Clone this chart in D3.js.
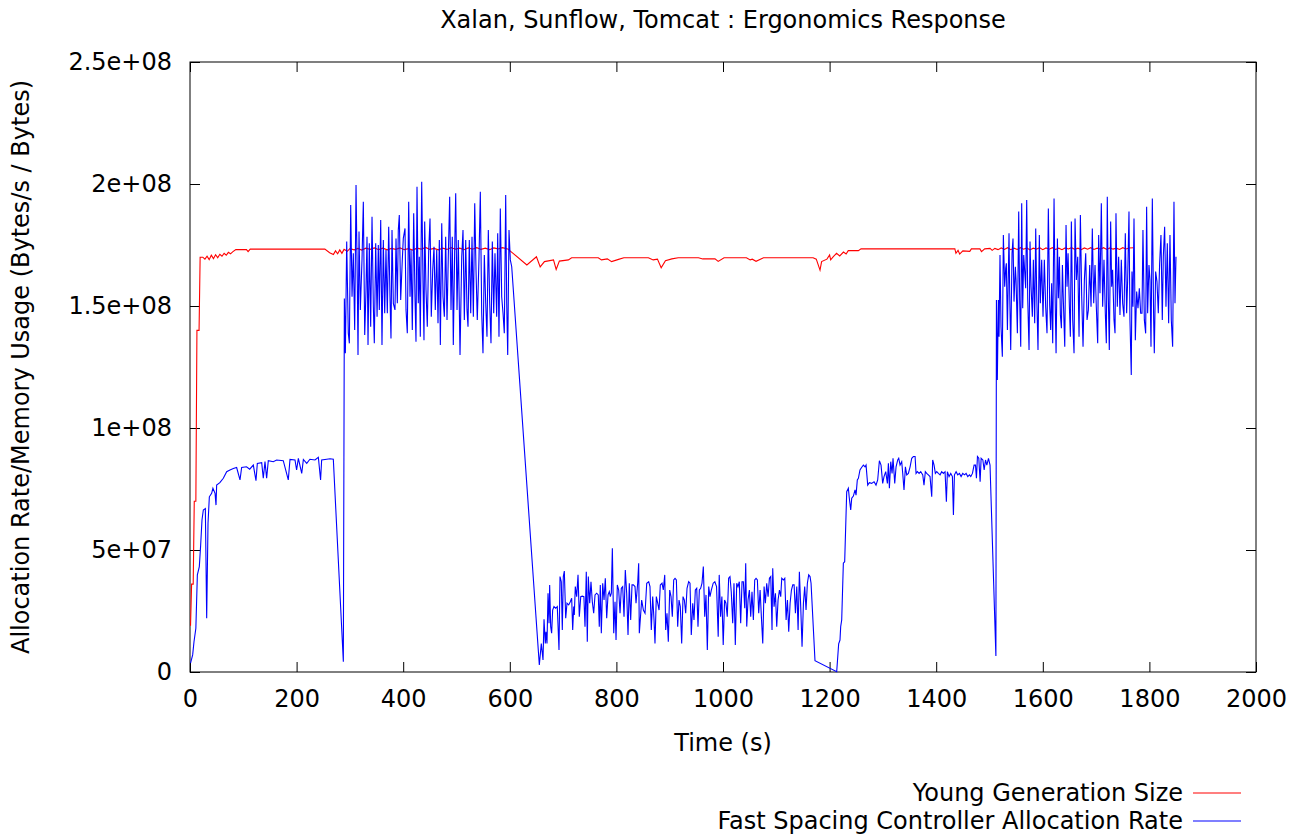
<!DOCTYPE html>
<html>
<head>
<meta charset="utf-8">
<script src="https://cdn.jsdelivr.net/npm/d3@7"></script>
<style>
  body { margin: 0; background: #fff; }
  text { font-family: "DejaVu Sans", sans-serif; fill: #000; }
</style>
</head>
<body>
<div id="chart"></div>
<script>
// values in millions of bytes (or bytes/s), time in seconds
const UNIT = 1e6;

const xTicks = [0, 200, 400, 600, 800, 1000, 1200, 1400, 1600, 1800, 2000];
const yTicks = [0, 5e7, 1e8, 1.5e8, 2e8, 2.5e8];

const seriesNames = ['Young Generation Size', 'Fast Spacing Controller Allocation Rate'];
const seriesColors = ['#ff0000', '#0000ff'];

const youngGen = [
  [1,19],[3,36],[6,36],[8,70],[11,70],[13,140],[17,140],[19,170],[24,170],[28,169.2],[32,170.4],[36,169],
  [40,170.8],[44,169.4],[48,171],[52,169.8],[56,171.2],[60,170.4],[64,171.6],[68,170.8],[72,172],[76,171.4],
  [80,172.2],[86,173.1],[106,173.1],[109,172.3],[113,173.3],[253,173.3],[262,171.8],[269,171.1],[273,172.6],
  [277,171.4],[281,173],[285,171.6],[289,173.2],[295,172.4],[300,173.5],[308,173],[315,173.6],[322,172.9],
  [330,173.7],[338,173.2],[346,173.8],[354,173.1],[362,173.7],[370,173],[378,173.6],[386,173.2],[394,173.8],
  [402,173.1],[410,173.5],[418,172.9],[426,173.7],[434,173.3],[442,174],[450,173.2],[458,173.6],[466,173],
  [474,173.7],[482,173.2],[490,173.9],[498,173.3],[506,173.7],[514,173.1],[522,173.8],[530,173.3],[538,173.9],
  [546,173.2],[554,173.7],[562,173.1],[570,173.8],[578,173.4],[586,173.9],[596,173.4],[605,171.8],[632,166.8],
  [650,170.2],[657,166],[665,168.2],[682,168.9],[687,165],[693,168.4],[710,168.9],[716,169.8],[766,169.8],
  [772,168.9],[783,169.3],[791,168.2],[804,169.1],[814,169.8],[860,169.8],[869,168.9],[877,169.2],[884,165.7],
  [892,168.6],[904,169.3],[916,169.8],[954,169.8],[962,169.3],[985,169.3],[991,168.3],[1002,169.8],[1044,169.8],
  [1051,168.9],[1055,169.2],[1062,168.3],[1076,169.8],[1169,169.8],[1175,169.2],[1182,164.7],[1185,168.2],
  [1195,169.2],[1200,170.9],[1202,168.9],[1207,170.2],[1213,171.6],[1219,170.5],[1226,172.1],[1231,171.3],
  [1235,172.7],[1254,172.7],[1259,173.4],[1435,173.4],[1437,171.6],[1441,172.8],[1444,171.3],[1450,172.6],
  [1463,172.4],[1466,173.4],[1482,173.4],[1485,172.3],[1491,173.4],[1501,173.6],[1505,172.8],[1510,173.6],
  [1516,173.1],[1522,173.8],[1528,173.2],[1534,173.9],[1540,173.1],[1546,173.7],[1552,173.2],[1558,173.9],
  [1564,173.3],[1570,173.8],[1576,173],[1582,173.7],[1588,173.3],[1594,173.9],[1600,173.1],[1606,173.8],
  [1612,173.3],[1618,173.9],[1624,173.2],[1630,173.7],[1636,173.1],[1642,173.8],[1648,173.4],[1654,173.9],
  [1660,173.2],[1666,173.7],[1672,173.1],[1678,173.8],[1684,173.3],[1690,173.9],[1696,173.2],[1702,173.7],
  [1708,173.3],[1714,173.9],[1720,173.2],[1726,173.8],[1732,173.3],[1738,173.7],[1744,173.2],[1750,173.9],
  [1756,173.4],[1762,173.8],[1770,173.9]
];

const allocRate = [
  // ramp + first plateau
  [1,3.6],[5,7],[7.5,12.4],[11,17.9],[13.8,39.8],[17.5,43.2],[20,52],[22.5,62.3],[25,66.4],[28.8,67],[31.3,22],
  [33.8,61],[36.3,71.8],[40.6,73.2],[43,75.3],[47,73.2],[48.8,68.4],[50,76.6],[56,77.6],[62.5,79.4],[68.8,82.1],
  [75,82.8],[81.3,83.4],[87.5,83.8],[93.8,78.7],[96.9,83.8],[106,84.1],[112,83.1],[118.8,84.8],[123.8,78.4],
  [126.3,85.5],[134.5,85.8],[137.5,79.4],[140.7,86.2],[143.8,79.4],[146.9,86.6],[156.3,86.2],[162.5,86.9],
  [175,86.6],[184.4,78.7],[187.6,87.1],[197,86.9],[200,82.8],[203.3,87.6],[209.6,81.4],[212.7,87.1],[219,85.5],
  [225,87.2],[234.5,86.9],[240.8,88],[245,78.7],[247,86.9],[256.5,87.2],[262.7,87.4],[268.9,87.2],[287.7,4.2],
  // first high band
  [289.6,153.1],[291.5,130.6],[294,176.4],[297,138.8],[299,134.7],[301.5,191.4],[304,153.8],[306.4,171.6],
  [309,140.2],[311.5,199.6],[314,157.9],[315.2,129.9],[317.1,180.5],[319.6,148.4],[322.7,168.9],[325.2,192.7],
  [327.8,138.1],[330.2,156.6],[332.1,178.4],[334,134],[336.4,175.7],[339,141.5],[341.5,186.6],[344,149.7],
  [345.8,134.7],[348.4,175.7],[351,145.6],[353.3,175],[355.2,148.4],[357.8,185.2],[360.2,134],[362.7,177],
  [365.3,147],[367.7,172.9],[370.2,147],[372.8,182.5],[375.2,153.8],[377.1,136.7],[379,181.1],[381.5,151.1],
  [384.6,148.4],[386.5,177.7],[389,151.1],[390.8,181.1],[392.7,187.3],[395.3,152.5],[398.3,168.9],[400.2,177.7],
  [403.4,181.8],[405.3,148.4],[407.7,138.8],[410.3,192.7],[412.8,153.8],[414.7,172.9],[417.1,140.2],[419.7,188],
  [422.1,153.8],[424,135.4],[425.9,198.9],[428.3,151.1],[430.2,170.2],[432.1,137.4],[434.7,200.9],[437.2,159.3],
  [439,136],[440.3,184.6],[442.8,156.6],[445.2,141.5],[447.8,172.3],[450.3,185.9],[452.7,145.6],[455.4,164.8],
  [457.8,174.3],[460.2,148.4],[462.9,172.9],[465.3,142.9],[467.8,177],[469.7,134],[472.3,183.9],[474.7,153.8],
  [477.2,145.6],[479.7,178.4],[482.2,144.3],[484.6,170.2],[487.2,194.8],[489.7,148.4],[492.1,178.4],[494,134],
  [496.6,172.9],[498.5,196.2],[501,148.4],[503.4,177],[506.6,129.9],[509.8,170.2],[512.2,181.1],[514.7,144.3],
  [517.3,177],[519.7,148.4],[521.6,141.5],[524,177],[526.7,147],[529.1,178.4],[531.6,145.6],[534.2,192.1],
  [536.6,164.8],[539,144.3],[542.2,169.5],[544.7,196.8],[547.3,147],[549.7,130.6],[552.2,170.9],[554.8,151.1],
  [557.2,137.4],[559.7,181.1],[562.3,151.1],[564.7,134.7],[567.2,176.4],[569.8,147],[572.2,171.6],[575.4,145.6],
  [577.3,179.8],[579.7,137.4],[582.2,190],[584.8,153.8],[587.3,147],[589.7,138.8],[592.3,195.5],[594.2,151.1],
  [596.1,129.9],[598.5,181.1],[601,168.9],[603.6,166.1],[655.4,2.9],
  // low band
  [659.1,11.7],[662.3,4.9],[664.2,21.6],[666.6,11.7],[667.9,16.5],[669.8,11.7],[671.7,32.3],[673.6,20],
  [674.8,35.7],[676.7,18.6],[678.5,15.9],[680.4,25.4],[682.9,26.8],[686.1,26.1],[689.1,26.8],[692.3,9],
  [694.2,39.1],[696.6,37],[698.5,17.2],[700.4,39.1],[702.3,41.4],[704.9,22],[707.3,28.2],[710.5,27.5],
  [713.5,28.8],[716.1,30.2],[718,17.2],[719.9,26.8],[721,23.4],[722.9,35],[725.5,30.9],[728,39.8],[730.4,22.7],
  [733.1,30.9],[736,31.1],[739,30.9],[741.1,18.6],[743.5,41.1],[745.4,12.4],[747.3,39.1],[749.9,28.2],
  [752.3,37],[754.8,28.8],[757.4,24.1],[759.9,31.6],[763,32.3],[766,31.6],[767.9,18.6],[769.8,35.7],[771.7,15.9],
  [774.3,36.4],[776.8,29.5],[779.2,38.4],[781.8,22],[784.3,31.6],[786.7,32.9],[788.6,30.9],[790.5,32.3],
  [792.4,50.7],[795,15.9],[797.4,28.8],[799.3,13.1],[801.7,35.7],[804.3,33.6],[806.8,24.1],[809.2,34.3],
  [811.8,35],[814.3,22.7],[816.7,41.8],[819.3,32.3],[821.8,15.2],[824.2,36.4],[826.8,21.3],[829.3,35.7],
  [831.8,35.7],[834.9,35],[836.8,28.2],[839.9,36.4],[841.8,44.6],[843,15.9],[847.4,29.5],[850.6,25.4],
  [853.7,24.1],[856.9,36.4],[860.6,37],[863,35],[865.5,17.2],[868.1,30.9],[870.6,21.3],[872.4,11.7],[874.9,30.9],
  [877.5,28.2],[880,25.4],[882.4,35.7],[885.6,36.4],[888,33.6],[890.7,39.8],[892.5,17.2],[894.9,24.1],
  [897.4,12.4],[900,33.6],[902.5,30.9],[904.9,22.7],[907.5,37.7],[910,38.4],[912.5,37.7],[915,18.6],[917.5,29.5],
  [919.9,26.8],[922.5,11.7],[925,30.9],[927.5,29.5],[930,24.1],[932.5,34.3],[935.6,37],[938.1,36.4],[940.5,15.2],
  [943.2,28.2],[945.6,21.3],[948.1,33.6],[950.7,34.3],[953.1,18.6],[955.6,33.6],[958.1,34.3],[960.6,36.4],
  [963.1,43.2],[965.7,22.7],[968.1,31.6],[970.6,9],[973.2,35],[975.6,30.9],[978.1,33.6],[981.6,36.4],[984.7,37],
  [987.9,35],[991,14.5],[992.9,39.8],[995.5,22.7],[997.9,30.9],[1000.4,11.1],[1003,29.5],[1005.5,28.2],
  [1008,22.7],[1010.6,38.4],[1013.1,39.1],[1015.5,32.9],[1018.2,20],[1020.6,36.4],[1023.1,11.1],[1025.7,36.4],
  [1028.1,35],[1030.6,37],[1033.2,20],[1035.7,37],[1038.2,37],[1040.8,26.1],[1042.6,44.6],[1044.5,18.6],
  [1047,29.5],[1049.5,33.6],[1052,22.7],[1054.4,32.9],[1057,21.3],[1059.5,37.7],[1062,38.4],[1064.5,37.7],
  [1067,24.1],[1069.6,33.6],[1072,22.7],[1074.6,11.7],[1077.1,35],[1079.5,28.2],[1082,36.4],[1084.6,30.9],
  [1087.1,38.4],[1089.6,39.1],[1092,17.2],[1093.3,42.5],[1095.8,26.8],[1098.4,32.3],[1100.8,18.6],[1103.3,29.5],
  [1105.9,33.6],[1108.3,30.9],[1110.2,38.4],[1113.4,37.7],[1115.9,38.4],[1118.4,21.3],[1120.9,29.5],
  [1123.3,16.5],[1125.9,28.2],[1128.4,33.6],[1130.9,35.7],[1133.4,35.7],[1135.9,24.1],[1138.4,35],[1140.9,17.2],
  [1143.3,41.1],[1145.8,26.8],[1148.3,10.4],[1150.9,28.2],[1153.3,35],[1155.8,25.4],[1158.3,36.4],[1160.8,39.8],
  [1163.3,39.1],[1165.2,36.4],[1172.6,4.6],[1213.3,0.1],
  // second plateau
  [1217,11.5],[1219.5,13.1],[1220.8,18.6],[1222.7,21.3],[1225.8,44.6],[1228.3,45.2],[1232.1,73.9],[1235.2,75.3],
  [1237,71.2],[1239.6,66.4],[1241.5,71.2],[1244.6,72.1],[1247.7,74.6],[1249.6,72.5],[1252,78.7],[1254,79.4],
  [1257,82.8],[1260.3,83.9],[1263.4,84.8],[1266.5,84.1],[1268.4,84.8],[1271.5,76.6],[1274.6,77.6],[1279,77.3],
  [1283.4,78],[1287.1,76.6],[1290.2,78.7],[1293.4,86.6],[1296.5,84.8],[1299.6,77.3],[1302.1,80.1],[1305.3,82.1],
  [1308.4,77.3],[1310.3,85.5],[1312.2,75.3],[1314.7,86.2],[1317.2,81.4],[1319,87.6],[1322.2,77.3],[1324.7,84.1],
  [1327.8,86.9],[1329.7,87.6],[1332.2,84.8],[1335.3,86.2],[1337.2,81.4],[1339.6,74.6],[1342.2,84.1],
  [1344.7,80.8],[1347.8,81.4],[1351,84.1],[1354.1,87.6],[1357.2,88.3],[1360.4,88.3],[1362.2,81.4],[1364.7,82.1],
  [1367.9,81.4],[1371,82.1],[1374.8,80.8],[1377.1,76.6],[1379.6,82.1],[1382.2,81.4],[1385.3,80.8],[1388.4,80.1],
  [1391.6,71.8],[1393.4,86.9],[1396,84.8],[1398.4,81.4],[1401,82.1],[1404.1,81.4],[1407.3,80.8],[1410.3,82.1],
  [1413.5,81.4],[1416.6,82.1],[1419.1,69.8],[1421,82.1],[1424.1,80.1],[1427.3,81.4],[1430.4,80.1],[1432.3,64.3],
  [1434.2,80.8],[1437.3,82.1],[1440.4,80.8],[1443.6,81.4],[1446.7,80.1],[1449.8,81.4],[1453,80.8],[1456.1,81.4],
  [1459.2,80.1],[1462.4,80.8],[1464.9,80.1],[1468,81.4],[1471.1,84.8],[1473.7,84.8],[1475.5,79.4],[1477.4,88.3],
  [1479.9,87.6],[1482.4,78],[1484.3,87.6],[1487.5,86.9],[1490,82.8],[1492.5,86.9],[1495,84.8],[1498.1,87.6],
  [1501,84.8],[1512,6.6],
  // second high band
  [1513,152.5],[1514.7,119.7],[1516.6,152.5],[1517.9,137.4],[1519.7,170.9],[1521.6,141.5],[1524.1,129.2],
  [1526,179.1],[1528.5,157.9],[1530.4,165.4],[1531.6,167.5],[1533.6,140.2],[1536.6,179.8],[1537.9,155.2],
  [1539.8,132],[1542.3,171.6],[1544.1,177.7],[1546,151.8],[1548.5,166.1],[1549.8,160.7],[1552.3,138.8],
  [1554.8,188.7],[1556.6,152.5],[1558.6,133.3],[1560.4,192.1],[1562.3,149.1],[1564.2,170.9],[1566.1,164.1],
  [1567.9,157.3],[1569.8,193.4],[1571.7,153.2],[1574.2,132],[1576,176.4],[1578,157.9],[1580.4,145.6],
  [1582.3,168.9],[1584.8,142.9],[1586.7,181.8],[1588.5,155.2],[1591,132],[1593.5,179.1],[1595.4,151.1],
  [1597.9,168.9],[1600.4,145.6],[1602.9,168.9],[1605.4,149.7],[1607.9,138.8],[1610.4,190],[1612.9,150.4],
  [1614.8,140.2],[1616.6,159.3],[1618.6,134.7],[1621.1,194.1],[1623,155.2],[1624.9,130.6],[1627.4,177.7],
  [1629.2,153.2],[1631.1,170.2],[1633,146.3],[1634.9,140.9],[1636.8,166.8],[1638.6,151.8],[1641.2,133.3],
  [1643.6,183.2],[1645.5,157.9],[1647.4,171.6],[1649.9,149.7],[1651.7,137.4],[1653.6,184.6],[1656.1,144.3],
  [1658.6,130.6],[1660.5,185.9],[1663,160.7],[1665.5,170.2],[1668,137.4],[1670.5,187.3],[1673,153.8],
  [1675.5,133.3],[1678,160.7],[1680.5,171.6],[1683,144.3],[1685.5,148.4],[1688,166.8],[1690.5,149.7],
  [1692.9,181.8],[1695.5,151.1],[1698,166.8],[1700.4,149.7],[1703,134.7],[1704.8,179.1],[1707.3,155.2],
  [1709.8,192.1],[1712.3,149.7],[1714.8,168.9],[1717.3,147],[1719.2,134.7],[1721,194.8],[1722.9,153.8],
  [1724.8,132],[1727.3,184.6],[1729.2,157.9],[1731,164.8],[1733.6,144.3],[1735.5,138.8],[1737.3,188],
  [1739.8,149.7],[1742.3,170.2],[1744.8,146.3],[1747.3,168.9],[1749.8,151.1],[1752.3,145.6],[1754.8,179.8],
  [1757.3,147],[1759.2,160.7],[1761.7,188.7],[1763.5,144.3],[1766,121.7],[1767.3,164.1],[1769.2,149.7],
  [1771.1,185.9],[1773.6,136],[1776.1,155.9],[1778.6,149.1],[1781.1,157.3],[1783.6,147],[1786.1,147],
  [1787.9,181.1],[1790.5,144.3],[1793,138.8],[1794.8,190.7],[1796.7,147],[1799.2,166.8],[1801.1,160.7],
  [1803,133.3],[1805.5,194.1],[1808,144.3],[1809.2,130.6],[1811.7,164.1],[1814.2,160],[1816.7,147],
  [1819.2,167.5],[1821.7,179.1],[1824.2,144.3],[1826.1,170.2],[1828.6,182.5],[1831.1,149.7],[1833.6,175.7],
  [1836.1,142.9],[1838.6,179.1],[1841.1,144.3],[1843.6,133.3],[1846.1,192.7],[1848,151.1],[1849.9,170.2]
];

const W = 1303, H = 836;
const margin = { top: 62, right: 47, bottom: 164, left: 190 };
const plotW = W - margin.left - margin.right;
const plotH = H - margin.top - margin.bottom;
const fontSize = 24;

function expFormat(d) {
  if (d === 0) return '0';
  const parts = d.toExponential().split('e');
  const e = +parts[1];
  return parts[0] + 'e' + (e < 0 ? '-' : '+') + String(Math.abs(e)).padStart(2, '0');
}

const svg = d3.select('#chart')
  .append('svg')
  .attr('width', W)
  .attr('height', H);

const x = d3.scaleLinear().domain([0, 2000]).range([0, plotW]);
const y = d3.scaleLinear().domain([0, 2.5e8]).range([plotH, 0]);

const g = svg.append('g')
  .attr('transform', `translate(${margin.left},${margin.top})`);

// axes (gnuplot style: inward ticks, mirrored)
const xAxis = g.append('g')
  .attr('transform', `translate(0,${plotH})`)
  .call(d3.axisBottom(x).tickValues(xTicks).tickSizeInner(-10).tickSizeOuter(0).tickPadding(18).tickFormat(d => String(d)));
const xTop = g.append('g')
  .call(d3.axisTop(x).tickValues(xTicks).tickSizeInner(-10).tickSizeOuter(0).tickFormat(''));
const yAxis = g.append('g')
  .call(d3.axisLeft(y).tickValues(yTicks).tickSizeInner(-10).tickSizeOuter(0).tickPadding(18).tickFormat(expFormat));
const yRight = g.append('g')
  .attr('transform', `translate(${plotW},0)`)
  .call(d3.axisRight(y).tickValues(yTicks).tickSizeInner(-10).tickSizeOuter(0).tickFormat(''));

[xAxis, xTop, yAxis, yRight].forEach(a => {
  a.select('.domain').remove();
  a.selectAll('line').attr('stroke', '#000').attr('stroke-width', 1);
  a.selectAll('text')
    .style('font-family', '"DejaVu Sans", sans-serif')
    .style('font-size', fontSize + 'px')
    .attr('fill', '#000');
});

g.append('rect')
  .attr('width', plotW)
  .attr('height', plotH)
  .attr('fill', 'none')
  .attr('stroke', '#000')
  .attr('stroke-width', 1);

// lines
const line = d3.line()
  .x(d => x(d[0]))
  .y(d => y(d[1] * UNIT));

[youngGen, allocRate].forEach((series, i) => {
  g.append('path')
    .datum(series)
    .attr('d', line)
    .attr('fill', 'none')
    .attr('stroke', seriesColors[i])
    .attr('stroke-width', 1.1)
    .attr('stroke-linejoin', 'miter');
});

// titles
svg.append('text')
  .attr('x', margin.left + plotW / 2)
  .attr('y', 28)
  .attr('text-anchor', 'middle')
  .style('font-size', fontSize + 'px')
  .text('Xalan, Sunflow, Tomcat : Ergonomics Response');

svg.append('text')
  .attr('x', margin.left + plotW / 2)
  .attr('y', 751)
  .attr('text-anchor', 'middle')
  .style('font-size', fontSize + 'px')
  .text('Time (s)');

svg.append('text')
  .attr('transform', `translate(29,${margin.top + plotH / 2}) rotate(-90)`)
  .attr('text-anchor', 'middle')
  .style('font-size', fontSize + 'px')
  .text('Allocation Rate/Memory Usage (Bytes/s / Bytes)');

// legend
const legend = svg.append('g');
seriesNames.forEach((name, i) => {
  const ly = 793 + i * 28;
  legend.append('text')
    .attr('x', 1183)
    .attr('y', ly + 8)
    .attr('text-anchor', 'end')
    .style('font-size', fontSize + 'px')
    .text(name);
  legend.append('line')
    .attr('x1', 1193).attr('x2', 1241)
    .attr('y1', ly).attr('y2', ly)
    .attr('stroke', seriesColors[i])
    .attr('stroke-width', 1.1);
});
</script>
</body>
</html>
